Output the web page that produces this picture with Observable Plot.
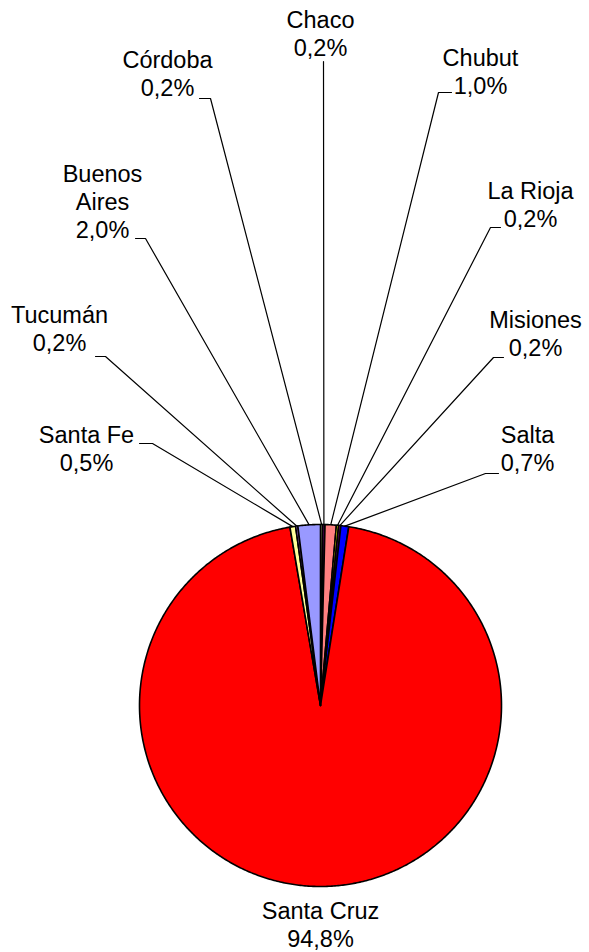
<!DOCTYPE html>
<html><head><meta charset="utf-8">
<script src="https://cdn.jsdelivr.net/npm/d3@7"></script>
<script src="https://cdn.jsdelivr.net/npm/@observablehq/plot@0.6"></script>
<style>html,body{margin:0;padding:0;background:#fff} svg{display:block}</style>
</head><body><div id="chart"></div>
<script>
// ---- data (clockwise from 12 o'clock) ----
const provinces = ["Córdoba", "Chaco", "Chubut", "La Rioja", "Misiones", "Salta", "Santa Cruz", "Santa Fe", "Tucumán", "Buenos Aires"];
const shares = [0.2, 0.2, 1.0, 0.2, 0.2, 0.7, 94.8, 0.5, 0.2, 2.0];
const labelNames = ["Córdoba", "Chaco", "Chubut", "La Rioja", "Misiones", "Salta", "Santa Cruz", "Santa Fe", "Tucumán", "Buenos\nAires"];
const sliceColors = ["#A8A878", "#660066", "#FF8080", "#FFFF00", "#800080", "#0000FF", "#FF0000", "#FFFF99", "#9966CC", "#9999FF"];

// ---- layout (not data) ----
const W = 589, H = 952, CX = 320, CY = 705, R = 181;
// label position: text center x, last-line baseline y; leader start a, elbow b (page pixels)
const labelLayout = {
  "Córdoba":     {t: [167, 95],  a: [199, 98],  b: [210, 98]},
  "Chaco":       {t: [320, 55],  a: [323, 61],  b: [323, 61]},
  "Chubut":      {t: [480, 93],  a: [451, 92],  b: [438, 92]},
  "La Rioja":    {t: [530, 226], a: [500, 227], b: [490, 227]},
  "Misiones":    {t: [535, 355], a: [503, 357], b: [493, 357]},
  "Salta":       {t: [527, 470], a: [498, 473], b: [485, 473]},
  "Santa Cruz":  {t: [320, 946], a: null, b: null},
  "Santa Fe":    {t: [86, 470],  a: [139, 443], b: [152, 443]},
  "Tucumán":     {t: [59, 350],  a: [95, 356],  b: [105, 356]},
  "Buenos Aires":{t: [102, 237], a: [135, 238], b: [145, 238]}
};
const px = (p) => p[0] - CX;      // page x -> chart units
const py = (p) => CY - p[1];      // page y -> chart units (y up)

const total = d3.sum(shares);
let acc = 0;
const slices = provinces.map((name, i) => {
  const a0 = acc / total * 2 * Math.PI;
  acc += shares[i];
  const a1 = acc / total * 2 * Math.PI;
  return {name, value: shares[i], color: sliceColors[i], label: labelNames[i], a0, a1, mid: (a0 + a1) / 2};
});

// slice polygons
const polyPts = [];
for (const s of slices) {
  polyPts.push({name: s.name, color: s.color, x: 0, y: 0});
  const n = Math.max(2, Math.ceil((s.a1 - s.a0) / (Math.PI / 360)));
  for (let k = 0; k <= n; k++) {
    const a = s.a0 + (s.a1 - s.a0) * k / n;
    polyPts.push({name: s.name, color: s.color, x: R * Math.sin(a), y: R * Math.cos(a)});
  }
}

// leader lines
const leaderPts = [];
for (const s of slices) {
  const L = labelLayout[s.name];
  if (!L.a) continue;
  leaderPts.push({name: s.name, x: px(L.a), y: py(L.a)});
  leaderPts.push({name: s.name, x: px(L.b), y: py(L.b)});
  leaderPts.push({name: s.name, x: R * Math.sin(s.mid), y: R * Math.cos(s.mid)});
}

const fmt = (v) => v.toFixed(1).replace(".", ",") + "%";
const texts = slices.map(s => {
  const L = labelLayout[s.name];
  return {x: px(L.t), y: py(L.t), text: s.label + "\n" + fmt(s.value)};
});

const FS = 23.5;
const chart = Plot.plot({
  width: W, height: H,
  margin: 0,
  x: {domain: [-CX, W - CX], range: [0, W], axis: null},
  y: {domain: [CY - H, CY], range: [H, 0], axis: null},
  color: {type: "identity"},
  style: {fontFamily: "Arial, 'Liberation Sans', sans-serif", background: "#fff"},
  marks: [
    Plot.line(leaderPts, {x: "x", y: "y", z: "name", stroke: "black", strokeWidth: 1.2, curve: "linear"}),
    Plot.line(polyPts, {x: "x", y: "y", z: "name", fill: "color", stroke: "black", strokeWidth: 1.6, strokeLinejoin: "round", curve: "linear-closed"}),
    Plot.text(texts, {x: "x", y: "y", text: "text", fontSize: FS, lineAnchor: "bottom", lineHeight: 28 / FS, fill: "black", textAnchor: "middle"})
  ]
});
document.getElementById("chart").appendChild(chart);
</script>
</body></html>
